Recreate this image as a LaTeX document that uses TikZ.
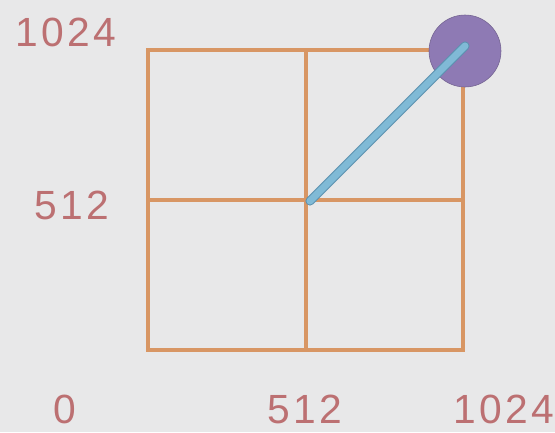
\documentclass[tikz,border=0pt]{standalone}
\usepackage{fontspec}
\setmainfont{Liberation Sans}
\newfontfamily\numfont[LetterSpace=8]{Liberation Sans}
\definecolor{backgr}{RGB}{232,232,233}
\definecolor{gridline}{RGB}{216,150,100}
\definecolor{stickblue}{RGB}{128,186,214}
\definecolor{stickedge}{RGB}{92,146,176}
\definecolor{knobpurple}{RGB}{142,122,180}
\definecolor{numred}{RGB}{188,112,114}

\begin{document}
\begin{tikzpicture}[x=0.05cm,y=-0.05cm]
\tikzset{
  numlabel/.style={inner sep=0pt,text=numred,font=\numfont\fontsize{58}{62}\selectfont},
  gridbox/.style={draw=gridline,line width=5pt},
  knobdisc/.style={circle,fill=knobpurple,draw=knobpurple!80!black,line width=0.8pt,inner sep=0pt,minimum size=3.6cm},
}
\fill[backgr] (0,0) rectangle (555,432);
\useasboundingbox (0,0) rectangle (555,432);
\begin{scope}
\draw[gridbox] (148,50) rectangle (463,350);
\draw[gridbox] (306,50) -- (306,350);
\draw[gridbox] (148,200) -- (463,200);
\end{scope}
\node[numlabel] (ytop) at (66,32) {1024};
\node[numlabel] (ymid) at (72,205) {512};
\node[numlabel] (xzero) at (65,409) {0};
\node[numlabel] (xmid) at (305,409) {512};
\node[numlabel] (xtop) at (504,409) {1024};
\node[knobdisc] (knob) at (465,51) {};
\coordinate (centre) at (310,201);
\coordinate (tip) at (465,46);
\draw[stickedge,line width=13pt,line cap=round] (centre) -- (tip);
\draw[stickblue,line width=10pt,line cap=round] (centre) -- (tip);
\end{tikzpicture}
\end{document}
